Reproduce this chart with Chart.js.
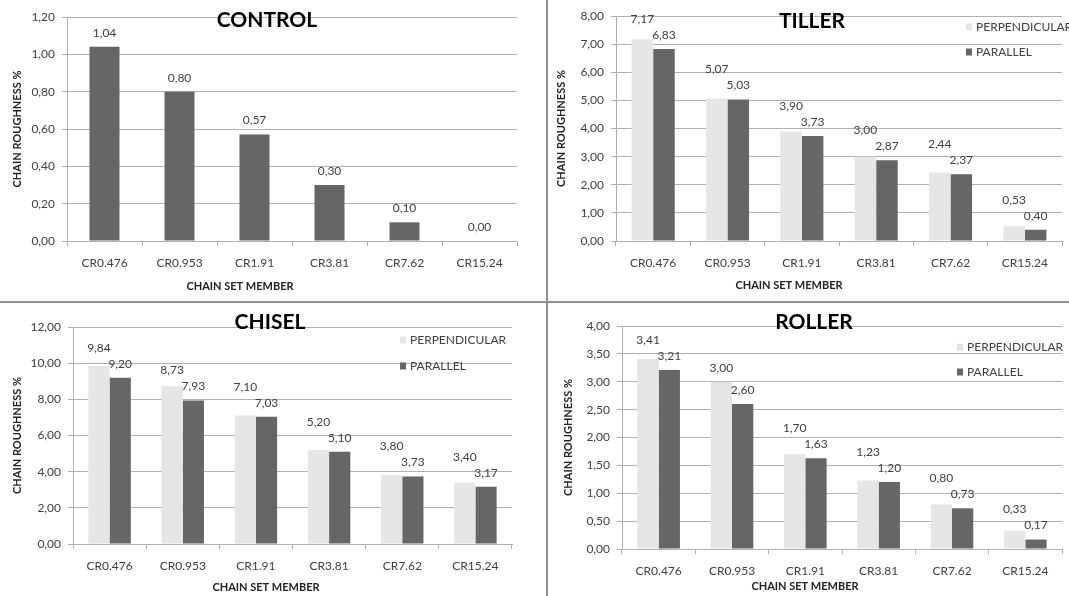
<!DOCTYPE html>
<html>
<head>
<meta charset="utf-8">
<script src="https://cdn.jsdelivr.net/npm/chart.js@4.4.1/dist/chart.umd.min.js"></script>
<style>
  body { margin: 0; background: #fff; }
  #wrap { position: relative; width: 1069px; height: 596px; overflow: hidden; }
  canvas { position: absolute; }
  .vline { position: absolute; left: 546px; top: 0; width: 2px; height: 596px; background: #8f8f8f; }
  .hline { position: absolute; left: 0; top: 301px; width: 1069px; height: 2px; background: #8f8f8f; }
</style>
</head>
<body>
<div id="wrap">
  <canvas id="controlChart" width="540" height="300" style="left:0;top:0"></canvas>
  <canvas id="tillerChart" width="529" height="300" style="left:540px;top:0"></canvas>
  <canvas id="chiselChart" width="540" height="296" style="left:0;top:300px"></canvas>
  <canvas id="rollerChart" width="529" height="296" style="left:540px;top:300px"></canvas>
  <div class="vline"></div>
  <div class="hline"></div>
</div>
<script>
const categories = ['CR0.476', 'CR0.953', 'CR1.91', 'CR3.81', 'CR7.62', 'CR15.24'];
const seriesNames = ['PERPENDICULAR', 'PARALLEL'];
const yTitle = 'CHAIN ROUGHNESS %';
const xTitle = 'CHAIN SET MEMBER';

const controlValues = [1.04, 0.80, 0.57, 0.30, 0.10, 0.00];

const tillerPerp = [7.17, 5.07, 3.90, 3.00, 2.44, 0.53];
const tillerPar = [6.83, 5.03, 3.73, 2.87, 2.37, 0.40];

const chiselPerp = [9.84, 8.73, 7.10, 5.20, 3.80, 3.40];
const chiselPar = [9.20, 7.93, 7.03, 5.10, 3.73, 3.17];

const rollerPerp = [3.41, 3.00, 1.70, 1.23, 0.80, 0.33];
const rollerPar = [3.21, 2.60, 1.63, 1.20, 0.73, 0.17];

const DARK = '#666666', LIGHT = '#e6e6e6', TEXT = '#404040', GRID = '#b0b0b0';
const FONT = 'Lato, "Open Sans", sans-serif';
Chart.defaults.font.family = FONT;
Chart.defaults.color = TEXT;

const fmt = v => v.toFixed(2).replace('.', ',');

// value labels, panel title, x title and legend
const decor = {
    id: 'decor',
    afterDatasetsDraw(chart, args, o) {
        const ctx = chart.ctx;
        const n = chart.data.datasets.length;
        const last = chart.getDatasetMeta(n - 1);
        ctx.save();
        ctx.font = '12px ' + FONT;
        ctx.fillStyle = TEXT;
        ctx.textAlign = 'center';
        ctx.textBaseline = 'middle';
        chart.data.datasets.forEach((ds, di) => {
            const meta = chart.getDatasetMeta(di);
            meta.data.forEach((bar, i) => {
                let y = bar.y - 14;
                if (di < n - 1) y = Math.min(y, last.data[i].y - 30);
                ctx.fillText(fmt(ds.data[i]), bar.x, y);
            });
        });

        ctx.fillStyle = '#000';
        ctx.font = 'bold 21px ' + FONT;
        ctx.fillText(o.title, o.titleX, o.titleY);

        ctx.fillStyle = '#222';
        ctx.font = 'bold 11px ' + FONT;
        ctx.fillText(xTitle, o.xTitleX, o.xTitleY);

        if (n > 1) {
            ctx.textAlign = 'left';
            ctx.font = '12px ' + FONT;
            chart.data.datasets.forEach((ds, di) => {
                const y = o.legendY + di * o.legendGap;
                ctx.fillStyle = ds.backgroundColor;
                ctx.fillRect(o.legendX, y - 3.5, 6, 7);
                ctx.fillStyle = TEXT;
                ctx.fillText(ds.label, o.legendX + 10, y);
            });
        }
        ctx.restore();
    }
};

function makeChart(id, datasets, cfg) {
    return new Chart(document.getElementById(id), {
        type: 'bar',
        data: { labels: categories, datasets: datasets },
        options: {
            responsive: false,
            animation: false,
            devicePixelRatio: 1,
            layout: { padding: { left: 0, top: cfg.padTop, right: cfg.padRight, bottom: 0 } },
            datasets: { bar: { categoryPercentage: cfg.catPct, barPercentage: cfg.barPct } },
            plugins: {
                legend: { display: false },
                tooltip: { enabled: false },
                decor: cfg.decor
            },
            scales: {
                x: {
                    grid: { offset: true, drawOnChartArea: false, drawTicks: true, tickLength: 5, color: GRID },
                    border: { color: GRID },
                    ticks: { padding: 10, font: { size: 12 }, color: TEXT, maxRotation: 0 },
                    afterFit: s => { s.height = cfg.xHeight; }
                },
                y: {
                    min: 0,
                    max: cfg.yMax,
                    ticks: { stepSize: cfg.yStep, callback: v => fmt(v), padding: 7, font: { size: 12 }, color: TEXT },
                    grid: { color: GRID, tickLength: 5 },
                    border: { color: GRID },
                    title: {
                        display: true, text: yTitle, color: '#222',
                        font: { size: 11, weight: 'bold' },
                        padding: { top: cfg.yTitlePad, bottom: 0 }
                    },
                    afterFit: s => { s.width = cfg.yWidth; }
                }
            }
        },
        plugins: [decor]
    });
}

const perpSet = data => ({ label: seriesNames[0], data: data, backgroundColor: LIGHT });
const parSet = data => ({ label: seriesNames[1], data: data, backgroundColor: DARK });

makeChart('controlChart', [parSet(controlValues)], {
    padTop: 17, padRight: 23, xHeight: 59, yWidth: 67, yTitlePad: 11,
    yMax: 1.2, yStep: 0.2, catPct: 0.8, barPct: 0.5,
    decor: { title: 'CONTROL', titleX: 267, titleY: 20, xTitleX: 240, xTitleY: 286 }
});

makeChart('tillerChart', [perpSet(tillerPerp), parSet(tillerPar)], {
    padTop: 16, padRight: 7, xHeight: 59, yWidth: 76, yTitlePad: 15,
    yMax: 8, yStep: 1, catPct: 0.58, barPct: 1,
    decor: { title: 'TILLER', titleX: 272, titleY: 21, xTitleX: 249, xTitleY: 285,
             legendX: 426, legendY: 27, legendGap: 25 }
});

makeChart('chiselChart', [perpSet(chiselPerp), parSet(chiselPar)], {
    padTop: 27, padRight: 28, xHeight: 52, yWidth: 73, yTitlePad: 11,
    yMax: 12, yStep: 2, catPct: 0.58, barPct: 1,
    decor: { title: 'CHISEL', titleX: 270, titleY: 22, xTitleX: 266, xTitleY: 287,
             legendX: 400, legendY: 40, legendGap: 26 }
});

makeChart('rollerChart', [perpSet(rollerPerp), parSet(rollerPar)], {
    padTop: 26, padRight: 7, xHeight: 47, yWidth: 82, yTitlePad: 22,
    yMax: 4, yStep: 0.5, catPct: 0.58, barPct: 1,
    decor: { title: 'ROLLER', titleX: 274, titleY: 22, xTitleX: 265, xTitleY: 286,
             legendX: 417, legendY: 47, legendGap: 25 }
});
</script>
</body>
</html>
